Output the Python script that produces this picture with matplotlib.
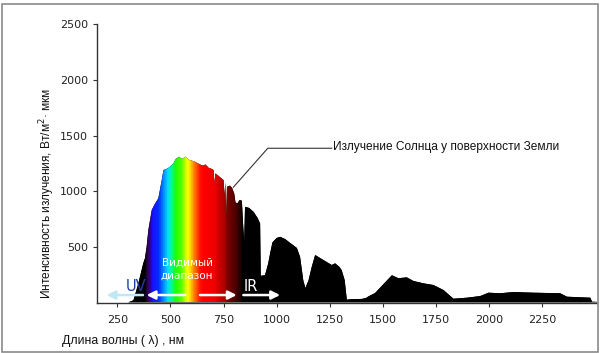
import numpy as np
import matplotlib
matplotlib.use("Agg")
import matplotlib.pyplot as plt
from matplotlib.colors import LinearSegmentedColormap, to_rgb
from matplotlib.patches import Polygon, Rectangle

# ---- data ----
wavelength = [300, 326, 349, 372, 380, 388, 396, 412, 425, 443, 459, 467, 480, 495, 505,
              514, 525, 540, 555, 570, 590, 610, 630, 650, 665, 680, 695, 703, 707, 711,
              725, 740, 750, 754, 758, 762, 766, 780, 790, 800, 806, 815, 825, 836, 842,
              847, 851, 870, 891, 910, 922, 925, 945, 960, 970, 980, 1000, 1016, 1040,
              1060, 1095, 1110, 1125, 1135, 1150, 1165, 1181, 1204, 1230, 1259, 1275,
              1295, 1306, 1320, 1330, 1350, 1400, 1420, 1432, 1463, 1500, 1542, 1573,
              1612, 1644, 1691, 1738, 1785, 1810, 1832, 1895, 1958, 1997, 2052, 2114,
              2208, 2334, 2366, 2476, 2484, 2510]
irradiance = [0, 20, 172, 352, 397, 501, 651, 831, 880, 936, 1100, 1190, 1200, 1215, 1235,
              1250, 1290, 1310, 1290, 1310, 1280, 1270, 1250, 1230, 1240, 1210, 1200, 1190,
              1070, 1160, 1140, 1115, 1100, 960, 1080, 770, 1040, 1050, 1030, 980, 900,
              890, 920, 915, 700, 550, 860, 850, 815, 760, 710, 240, 245, 350, 450, 540,
              580, 590, 570, 540, 490, 410, 200, 130, 200, 320, 427, 400, 370, 337, 352,
              320, 290, 200, 25, 30, 32, 40, 55, 85, 160, 245, 218, 226, 193, 172, 157,
              112, 70, 34, 43, 58, 88, 83, 94, 88, 83, 52, 43, 7, 5]

x_ticks = [250, 500, 750, 1000, 1250, 1500, 1750, 2000, 2250]
y_ticks = [500, 1000, 1500, 2000, 2500]

# visible-spectrum colour stops (wavelength, colour)
stop_wl = [150, 375, 385, 400, 410, 440, 455, 470, 485, 500, 520, 550, 565, 580, 595, 610,
           630, 645, 705, 720, 750, 760, 800, 825, 835, 2510]
stop_col = ["#000000", "#000000", "#300050", "#3000a0", "#1a10ff", "#0030ff", "#0070ff",
            "#00b0ff", "#00e8e8", "#00ff80", "#20ff00", "#60ff00", "#d0ff00", "#ffff00",
            "#ffb000", "#ff7000", "#ff2000", "#ff0000", "#f00000", "#d00000", "#b00000",
            "#800000", "#500000", "#200000", "#000000", "#000000"]

# ---- figure ----
fig = plt.figure(figsize=(6.0, 3.53), dpi=100)
ax = fig.add_axes([96.5 / 600, 50.5 / 353, 500 / 600, 278.2 / 353])
xmin, xmax = 152, 2505

# spectrum polygon
pts = np.column_stack([wavelength + [wavelength[-1], wavelength[0]],
                       irradiance + [0, 0]])
poly = Polygon(pts, closed=True, facecolor="black", edgecolor="none", zorder=2)
ax.add_patch(poly)

# gradient image clipped to spectrum
lo, hi = stop_wl[0], stop_wl[-1]
cmap = LinearSegmentedColormap.from_list(
    "vis", [((w - lo) / (hi - lo), to_rgb(c)) for w, c in zip(stop_wl, stop_col)])
grad = np.linspace(lo, hi, 3000)[None, :]
im = ax.imshow(grad, cmap=cmap, vmin=lo, vmax=hi, extent=[lo, hi, 0, 1400],
               aspect="auto", interpolation="bilinear", zorder=3)
im.set_clip_path(poly)
ax.set_xlim(xmin, xmax)
ax.set_ylim(0, 2500)

# axes styling
for s in ["top", "right"]:
    ax.spines[s].set_visible(False)
for s in ["left", "bottom"]:
    ax.spines[s].set_color("#333333")
    ax.spines[s].set_linewidth(1.0)
ax.set_xticks(x_ticks)
ax.set_yticks(y_ticks)
ax.tick_params(axis="both", direction="out", length=3, width=0.8, colors="#333333",
               labelsize=8, labelcolor="#222222", pad=3)
ax.tick_params(axis="x", pad=6)

sans = ["Liberation Sans", "DejaVu Sans"]

# annotation
ax.plot([796, 958, 1259], [1036, 1386, 1386], color="#333333", lw=0.8, zorder=5)
ax.text(1266, 1400, "Излучение Солнца у поверхности Земли", family=sans, fontsize=8.6,
        va="center", ha="left", color="#111111", zorder=6)

# region labels
ax.text(578, 300, "Видимый\nдиапазон", family=["DejaVu Sans"], fontsize=7.5, color="white",
        ha="center", va="center", linespacing=1.35, zorder=6)
ax.text(336, 140, "UV", family=["DejaVu Sans"], fontsize=10.5, color="#1f3f9f",
        ha="center", va="center", zorder=6)
ax.text(879, 140, "IR", family=["DejaVu Sans"], fontsize=10.5, color="white",
        ha="center", va="center", zorder=6)

arrow_kw = dict(arrowstyle="-|>,head_length=0.5,head_width=0.25", lw=1.8, shrinkA=0, shrinkB=0)
ax.annotate("", xy=(200, 67), xytext=(371, 67),
            arrowprops=dict(color="#bfe8f4", **arrow_kw), zorder=6)
ax.annotate("", xy=(388, 67), xytext=(569, 67),
            arrowprops=dict(color="white", **arrow_kw), zorder=6)
ax.annotate("", xy=(812, 67), xytext=(639, 67),
            arrowprops=dict(color="white", **arrow_kw), zorder=6)
ax.annotate("", xy=(1016, 67), xytext=(843, 67),
            arrowprops=dict(color="white", **arrow_kw), zorder=6)

# axis titles
fig.text(47 / 600, 1 - 193 / 353, "Интенсивность излучения, Вт/м$^2$· мкм", family=sans,
         fontsize=8.6, rotation=90, ha="center", va="center", color="#111111")
fig.text(62 / 600, 1 - 341 / 353, "Длина волны ( λ) , нм", family=sans, fontsize=8.8,
         ha="left", va="center", color="#111111")

# image border
fig.patches.append(Rectangle((1.5 / 600, 1.5 / 353), 596.5 / 600, 348 / 353,
                             transform=fig.transFigure, fill=False, edgecolor="#8a8a8a",
                             lw=1.2))

fig.savefig("out.png", dpi=100)
